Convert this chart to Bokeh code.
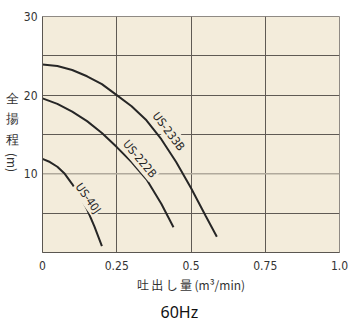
from bokeh.plotting import figure
from bokeh.layouts import row
from bokeh.models import Label, Span, FixedTicker, Title
from bokeh.embed import file_html
from bokeh.resources import INLINE

# Data
x_233b = [0.0, 0.05, 0.1, 0.15, 0.2, 0.25, 0.3, 0.35, 0.4, 0.45, 0.5, 0.55, 0.587]
y_233b = [23.9, 23.7, 23.2, 22.4, 21.4, 20.0, 18.6, 16.8, 14.4, 11.5, 8.2, 4.6, 2.0]

x_222b = [0.0, 0.05, 0.1, 0.15, 0.2, 0.25, 0.3, 0.35, 0.4, 0.441]
y_222b = [19.6, 18.9, 17.9, 16.7, 15.2, 13.4, 11.5, 9.3, 6.2, 3.2]

x_40j = [0.0, 0.025, 0.05, 0.075, 0.1, 0.125, 0.15, 0.175, 0.2]
y_40j = [11.9, 11.5, 10.9, 10.0, 8.7, 7.2, 5.5, 3.3, 0.8]

x_ticks = [0, 0.25, 0.5, 0.75, 1.0]
x_tick_labels = ["0", "0.25", "0.5", "0.75", "1.0"]
y_ticks = [10, 20, 30]
y_grid = [5, 15, 20, 25]
y_title_chars = ["全", "揚", "程"]

BG = "#F3ECDB"
GRID = "#5f5a54"
CURVE = "#262626"
NARROW = "DejaVu Sans Condensed, Roboto"
CJK = "Noto Sans CJK JP"

# ---- narrow strip holding the stacked vertical y-axis title ----
t = figure(frame_width=20, frame_height=325, output_backend="svg", toolbar_location=None,
           x_range=(0, 20), y_range=(325, 0),
           min_border_left=0, min_border_right=0, min_border_top=0, min_border_bottom=0)
t.xaxis.visible = False
t.yaxis.visible = False
t.grid.visible = False
t.outline_line_color = None
t.background_fill_color = "white"
t.border_fill_color = "white"
t.text(x=[12, 12, 12], y=[82, 102, 123], text=y_title_chars,
       text_align="center", text_baseline="middle",
       text_font=CJK, text_font_size="13px", text_color="#333333")
t.add_layout(Label(x=12, y=146, text="(m)", angle=-90, angle_units="deg",
                   text_align="center", text_baseline="middle",
                   text_font=CJK, text_font_size="12px", text_color="#333333"))

# ---- main chart ----
p = figure(frame_width=297, frame_height=236, output_backend="svg", toolbar_location=None,
           x_range=(0, 1.0), y_range=(0, 30),
           min_border_left=20, min_border_right=18, min_border_top=16, min_border_bottom=73)
p.background_fill_color = BG
p.border_fill_color = "white"
p.outline_line_color = "#8f8a84"
p.outline_line_width = 1

p.xaxis.ticker = FixedTicker(ticks=x_ticks)
p.xaxis.major_label_overrides = {tk: l for tk, l in zip(x_ticks, x_tick_labels)}
p.yaxis.ticker = FixedTicker(ticks=y_ticks)
for ax in (p.xaxis, p.yaxis):
    ax.axis_line_color = "#5a5651"
    ax.major_tick_line_color = None
    ax.minor_tick_line_color = None
    ax.major_tick_out = 0
    ax.major_tick_in = 0
    ax.major_label_text_font = NARROW
    ax.major_label_text_font_size = "12px"
    ax.major_label_text_color = "#333333"
p.xaxis.major_label_standoff = 8
p.yaxis.major_label_standoff = 5
p.xaxis.axis_label = "吐\u2009出\u2009し\u2009量\u2009(m³/min)"
p.xaxis.axis_label_text_font = CJK
p.xaxis.axis_label_text_font_size = "12px"
p.xaxis.axis_label_text_font_style = "normal"
p.xaxis.axis_label_text_color = "#333333"
p.xaxis.axis_label_standoff = 3

p.xgrid.ticker = FixedTicker(ticks=[0.25, 0.5, 0.75])
p.ygrid.ticker = FixedTicker(ticks=y_grid)
p.xgrid.grid_line_color = GRID
p.ygrid.grid_line_color = GRID
p.xgrid.grid_line_width = 1
p.ygrid.grid_line_width = 1
p.add_layout(Span(location=10, dimension="width", line_color="#b0a99c", line_width=1.5,
                  level="underlay"))

p.line(x_233b, y_233b, line_color=CURVE, line_width=2)
p.line(x_222b, y_222b, line_color=CURVE, line_width=2)
p.line(x_40j, y_40j, line_color=CURVE, line_width=2)

for txt, lx, ly, ang in [("US-233B", 0.425, 15.4, -53),
                         ("US-222B", 0.328, 11.9, -50),
                         ("US-40J", 0.154, 6.9, -54)]:
    p.add_layout(Label(x=lx, y=ly, text=txt, angle=ang, angle_units="deg",
                       text_align="center", text_baseline="middle",
                       text_font=NARROW, text_font_size="11.5px", text_color="#262626",
                       background_fill_color=BG, padding=1))

p.add_layout(Title(text="60Hz", align="left", offset=118, standoff=6,
                   text_font="Noto Sans", text_font_size="16px",
                   text_font_style="normal", text_color="#111111"), "below")

layout = row(t, p, spacing=0)
open("out.html", "w").write(file_html(layout, INLINE))
